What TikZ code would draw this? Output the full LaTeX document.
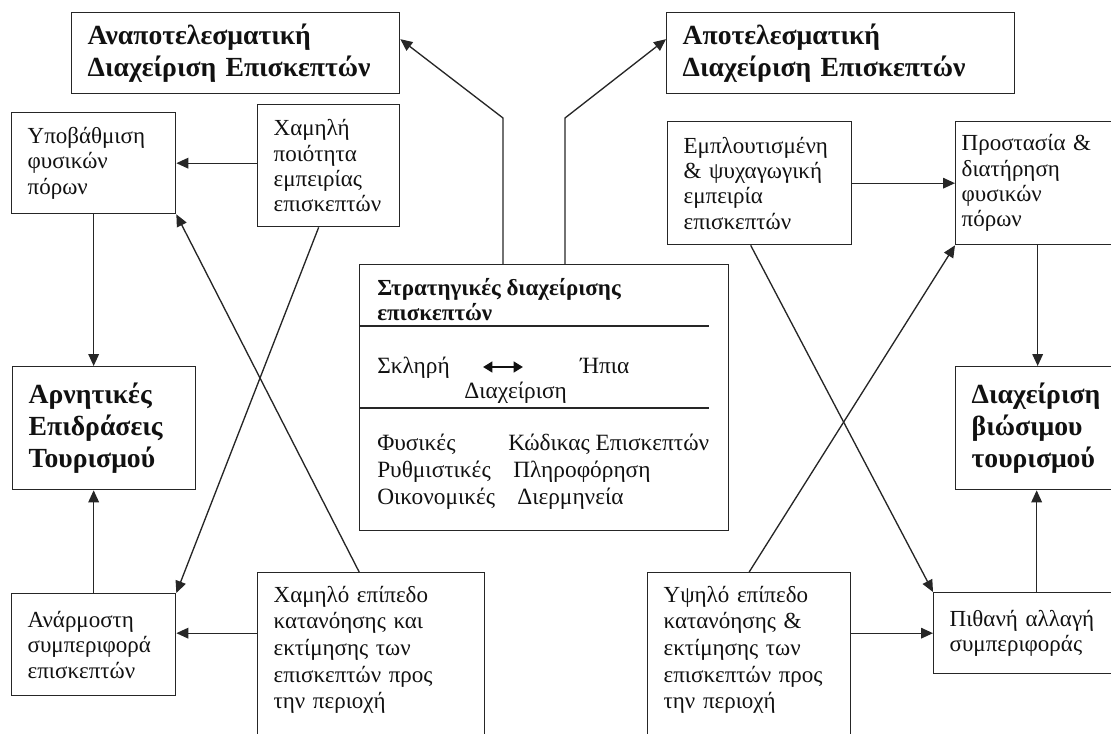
\documentclass[tikz,border=0pt]{standalone}
\usepackage{fontspec}
\setmainfont{Liberation Serif}
\usetikzlibrary{arrows.meta,calc}
\definecolor{ink}{HTML}{111111}
\definecolor{edge}{HTML}{262626}

\begin{document}
\begin{tikzpicture}[
  x=0.75pt, y=-0.75pt,
  font=\fontsize{17.25}{19}\selectfont,
  >={Triangle[length=9pt,width=8pt]},
  plainbox/.style={draw=edge, line width=1pt, text=ink, align=left,
    inner xsep=12pt, inner ysep=4pt, anchor=north west},
  keybox/.style={plainbox, font=\fontsize{20.75}{24}\selectfont\bfseries},
  openbox/.style={plainbox, inner ysep=10pt, font=\fontsize{17.25}{20}\selectfont},
  textline/.style={text=ink, inner sep=0pt, anchor=base west, align=left},
  flow/.style={->, draw=edge, line width=1pt},
  divider/.style={draw=edge, line width=1pt}
]
\useasboundingbox (0,0) rectangle (1111,733);

% outcomes at the top
\node[keybox, text width=222pt, minimum height=60.75pt] (ineff) at (71,12) {Αναποτελεσματική\\Διαχείριση Επισκεπτών};
\node[keybox, text width=237pt, minimum height=60.75pt] (eff) at (666,12) {Αποτελεσματική\\Διαχείριση Επισκεπτών};

% left side
\node[plainbox, text width=99pt, minimum height=75.75pt] (degr) at (11,112) {Υποβάθμιση\\φυσικών\\πόρων};
\node[plainbox, text width=82.5pt, minimum height=91.5pt] (lowexp) at (257,104) {Χαμηλή\\ποιότητα\\εμπειρίας\\επισκεπτών};
\node[keybox, text width=113.25pt, minimum height=92.25pt] (neg) at (12,366) {Αρνητικές\\Επιδράσεις\\Τουρισμού};
\node[plainbox, text width=99pt, minimum height=76.5pt] (inapp) at (11,593) {Ανάρμοστη\\συμπεριφορά\\επισκεπτών};
\node[openbox, text width=146.25pt] (lowund) at (257,572) {Χαμηλό επίπεδο\\κατανόησης και\\εκτίμησης των\\επισκεπτών προς\\την περιοχή\\ \mbox{}\\ \mbox{}};

% right side
\node[plainbox, text width=114pt, minimum height=92.25pt] (enrich) at (667,121) {Εμπλουτισμένη\\\& ψυχαγωγική\\εμπειρία\\επισκεπτών};
\node[plainbox, inner xsep=4.5pt, text width=114pt, minimum height=92.25pt] (protect) at (955,121) {Προστασία \&\\διατήρηση\\φυσικών\\πόρων};
\node[keybox, text width=99pt, minimum height=92.25pt] (sust) at (955,366) {Διαχείριση\\βιώσιμου\\τουρισμού};
\node[openbox, text width=128.25pt] (highund) at (647,572) {Υψηλό επίπεδο\\κατανόησης \&\\εκτίμησης των\\επισκεπτών προς\\την περιοχή\\ \mbox{}\\ \mbox{}};
\node[plainbox, text width=130.5pt, minimum height=60.75pt] (maybe) at (933,592) {Πιθανή αλλαγή\\συμπεριφοράς};

% strategies in the middle
\node[draw=edge, line width=1pt, minimum width=276.75pt, minimum height=199.5pt, anchor=north west, inner sep=0pt] (central) at (359,264) {};
\draw[divider] ($(central.north west)+(0,62)$) -- ++(350,0);
\draw[divider] ($(central.north west)+(0,144)$) -- ++(350,0);
\node[textline, font=\fontsize{17.25}{18.75}\selectfont\bfseries] (title) at (377,320) {Στρατηγικές διαχείρισης\\επισκεπτών};
\node[textline, font=\fontsize{17.5}{20.25}\selectfont] (hard) at (377,373) {Σκληρή};
\node[textline, font=\fontsize{17.5}{20.25}\selectfont] (soft) at (580,373) {Ήπια};
\node[textline, font=\fontsize{17.5}{20.25}\selectfont] (manage) at (464,398) {Διαχείριση};
\draw[<->, >={Triangle[length=7pt,width=8pt]}, draw=ink, line width=1.8pt] ($(central.north west)+(124,103)$) -- ++(40,0);
\node[textline, font=\fontsize{17.5}{20.25}\selectfont] (kinds) at (377,504) {Φυσικές\\Ρυθμιστικές\\Οικονομικές};
\node[textline, font=\fontsize{17.5}{20.25}\selectfont] (tools) at (508,504) {Κώδικας Επισκεπτών\\\hspace*{3.75pt}Πληροφόρηση\\\hspace*{6.75pt}Διερμηνεία};

\coordinate (lbend) at (503,118);
\coordinate (rbend) at (565,118);
\draw[flow] (central.north -| lbend) -- (lbend) -- ($(ineff.east)+(0,-14)$);
\draw[flow] (central.north -| rbend) -- (rbend) -- ($(eff.west)+(0,-14)$);
\draw[flow] (degr.south) -- (degr.south |- neg.north);
\draw[flow] (inapp.north) -- (inapp.north |- neg.south);
\draw[flow] (lowexp.west |- degr.east) -- (degr.east);
\draw[flow] ($(lowexp.south)+(-10,0)$) -- (inapp.north east);
\draw[flow] ($(lowund.north)+(-12,0)$) -- (degr.south east);
\draw[flow] (lowund.west |- maybe.west) -- (inapp.east |- maybe.west);
\draw[flow] (enrich.east) -- (enrich.east -| protect.west);
\draw[flow] (protect.south) -- (protect.south |- sust.north);
\draw[flow] (maybe.north) -- (maybe.north |- sust.south);
\draw[flow] ($(enrich.south)+(-9,0)$) -- (maybe.north west);
\draw[flow] (highund.north) -- (protect.south west);
\draw[flow] (highund.east |- maybe.west) -- (maybe.west);
\end{tikzpicture}
\end{document}
